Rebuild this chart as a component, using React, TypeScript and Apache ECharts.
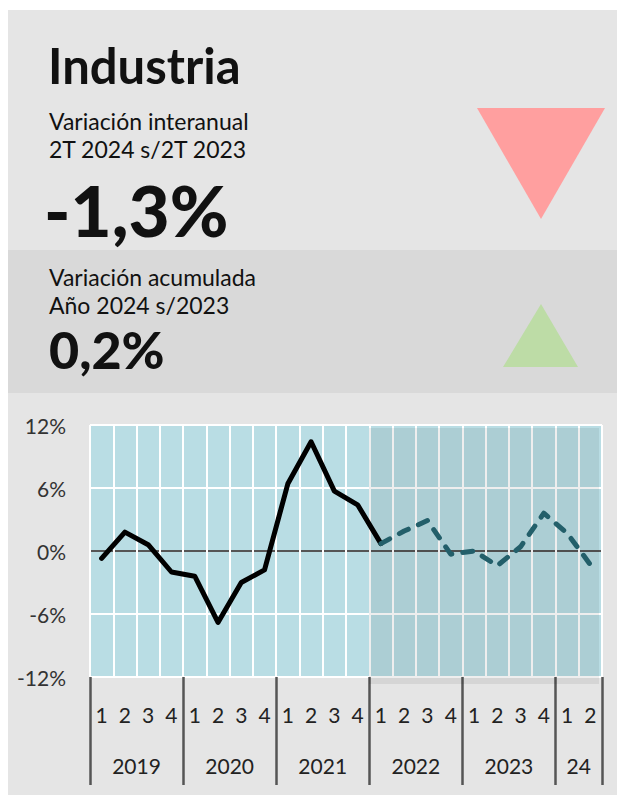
import React, { useEffect, useRef } from "react";
import * as echarts from "echarts";

// ---- data ----
const years = ["2019", "2020", "2021", "2022", "2023", "24"];
const quartersPerYear = [4, 4, 4, 4, 4, 2];
const quarterLabels = ["1", "2", "3", "4"];
const yTicks = [-12, -6, 0, 6, 12];

// observed (solid) and recent (dashed) year-on-year variation, %
const solidValues = [-0.7, 1.8, 0.6, -2.0, -2.4, -6.8, -3.0, -1.8, 6.4, 10.4, 5.7, 4.4, 0.7];
const dashedValues = [0.7, 1.9, 2.9, -0.3, 0.0, -1.4, 0.4, 3.6, 1.7, -1.3];

const title = "Industria";
const line1a = "Variación interanual";
const line1b = "2T 2024 s/2T 2023";
const value1 = "-1,3%";
const line2a = "Variación acumulada";
const line2b = "Año 2024 s/2023";
const value2 = "0,2%";

const FONT = "Lato, 'Open Sans', sans-serif";

export default function App() {
  const ref = useRef<HTMLDivElement>(null);

  useEffect(() => {
    if (!ref.current) return;
    document.body.style.margin = "0";
    document.body.style.overflow = "hidden";
    const chart = echarts.init(ref.current, undefined, { renderer: "svg" });

    // categories
    const categories: string[] = [];
    years.forEach((y, i) => {
      for (let q = 0; q < quartersPerYear[i]; q++) categories.push(y + "-" + quarterLabels[q]);
    });
    const n = categories.length;
    const solid: (number | null)[] = categories.map((_, i) => (i < solidValues.length ? solidValues[i] : null));
    const startDash = solidValues.length - 1;
    const dashed: (number | null)[] = categories.map((_, i) =>
      i >= startDash && i - startDash < dashedValues.length ? dashedValues[i - startDash] : null
    );

    // year boundaries / centers in quarter units
    const bounds: number[] = [0];
    const centers: number[] = [];
    let acc = 0;
    quartersPerYear.forEach((q) => {
      centers.push(acc + q / 2);
      acc += q;
      bounds.push(acc);
    });

    const text = (t: string, x: number, y: number, size: number, weight: any) => ({
      type: "text",
      x,
      y,
      z: 5,
      style: {
        text: t,
        fill: "#111",
        font: `${weight} ${size}px ${FONT}`,
        fontFamily: FONT,
        fontSize: size,
        fontWeight: weight,
        verticalAlign: "middle",
        align: "left",
      },
    });

    chart.setOption({
      animation: false,
      backgroundColor: "#ffffff",
      grid: {
        left: 90,
        top: 425,
        width: 512,
        height: 252,
        show: true,
        backgroundColor: "#b9dde4",
        borderWidth: 0,
      },
      xAxis: [
        {
          type: "category",
          data: categories,
          boundaryGap: true,
          axisLine: { show: false },
          axisTick: { show: false },
          splitLine: { show: true, interval: 0, lineStyle: { color: "#ffffff", width: 2 } },
          axisLabel: {
            interval: 0,
            margin: 27,
            fontSize: 21,
            fontFamily: FONT,
            color: "#222",
            formatter: (v: string) => v.split("-")[1],
          },
        },
        {
          type: "value",
          min: 0,
          max: n,
          position: "bottom",
          axisLine: { show: false },
          splitLine: { show: false },
          axisTick: {
            show: true,
            customValues: bounds,
            length: 108,
            lineStyle: { color: "#555", width: 2.5 },
          },
          axisLabel: {
            show: true,
            customValues: centers,
            margin: 78,
            fontSize: 21,
            fontFamily: FONT,
            color: "#222",
            formatter: (v: number) => {
              const i = centers.findIndex((c) => Math.abs(c - v) < 0.01);
              return i >= 0 ? years[i] : "";
            },
          },
        },
      ],
      yAxis: {
        type: "value",
        min: yTicks[0],
        max: yTicks[yTicks.length - 1],
        interval: 6,
        axisLine: { show: false },
        axisTick: { show: false },
        splitLine: {
          show: true,
          lineStyle: { color: ["#ffffff", "#ffffff", "#555555", "#ffffff", "#ffffff"], width: 2 },
        },
        axisLabel: {
          margin: 24,
          fontSize: 21,
          fontFamily: FONT,
          color: "#333",
          formatter: "{value}%",
        },
      },
      series: [
        {
          type: "line",
          data: solid,
          xAxisIndex: 0,
          symbol: "none",
          z: 4,
          lineStyle: { color: "#000", width: 5, cap: "round", join: "round" },
        },
        {
          type: "line",
          data: dashed,
          xAxisIndex: 0,
          symbol: "none",
          z: 4,
          lineStyle: { color: "#235f6a", width: 5, type: [10, 11], dashOffset: 0, cap: "round", join: "round" },
        },
      ],
      graphic: [
        { type: "rect", z: -10, shape: { x: 8, y: 10, width: 609, height: 785 }, style: { fill: "#e5e5e5" } },
        { type: "rect", z: -9, shape: { x: 8, y: 250, width: 609, height: 143 }, style: { fill: "#d9d9d9" } },
        {
          type: "rect",
          z: 3,
          shape: { x: 369, y: 428, width: 230, height: 256 },
          style: { fill: "rgba(0,0,0,0.065)" },
          silent: true,
        },
        {
          type: "polygon",
          z: 5,
          shape: { points: [[477, 108], [605, 108], [541, 219]] },
          style: { fill: "#ff9f9f" },
        },
        {
          type: "polygon",
          z: 5,
          shape: { points: [[503, 367], [578, 367], [541, 304]] },
          style: { fill: "#bddca6" },
        },
        text(title, 48, 64.5, 49, "bold"),
        text(line1a, 49, 120.5, 23, "normal"),
        text(line1b, 49, 148.5, 23, "normal"),
        text(value1, 44, 209, 71, 900),
        text(line2a, 49, 276.5, 23, "normal"),
        text(line2b, 49, 304.5, 23, "normal"),
        text(value2, 49, 349, 52, 900),
      ],
    });

    return () => chart.dispose();
  }, []);

  return (
    <div
      ref={ref}
      style={{ position: "absolute", left: 0, top: 0, width: 618, height: 795 }}
    />
  );
}
